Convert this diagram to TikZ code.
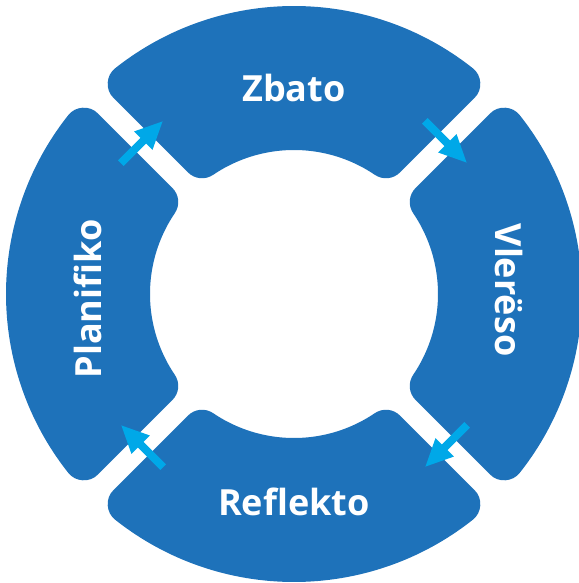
\documentclass[tikz,border=0pt]{standalone}
\usepackage{fontspec}
\setmainfont{Open Sans}
\usetikzlibrary{arrows.meta,calc}
\definecolor{ringblue}{RGB}{30,114,186}
\definecolor{arrowcyan}{RGB}{0,168,232}
\tikzset{
  segment/.style={fill=ringblue,draw=ringblue,line width=0.8cm,line join=round},
  seglabel/.style={text=white,font=\bfseries\fontsize{20.5}{20.5}\selectfont},
  steparrow/.style={arrowcyan,line width=4.5pt,-{Triangle[length=16pt,width=13.5pt]}}
}
\begin{document}
\begin{tikzpicture}
    \useasboundingbox (-5.88,-5.78) rectangle (5.70,5.88);
    %% Ring segments (shrunk, then stroked wide for the round corners)
    \foreach \a in {90,0,270,180}
        \path[segment] (\a-38.36:5.36) arc[start angle=\a-38.36,end angle=\a+38.36,radius=5.36]
            -- (\a+34.10:3.28) arc[start angle=\a+34.10,end angle=\a-34.10,radius=3.28] -- cycle;
    %% Labels
    \node[seglabel] (zbato) at (90:4.12) {Zbato};
    \node[seglabel,rotate=-90] (vlereso) at (4.3,0.08) {Vlerëso};
    \node[seglabel] (reflekto) at (270:4.16) {Reflekto};
    \node[seglabel,rotate=90] (planifiko) at (-4.12,-0.1) {Planifiko};
    %% Arrows across the gaps, clockwise
    \foreach \g/\n in {135/a,45/b,-45/c,-135/d} {
        \coordinate (\n-tail) at ($(\g:4.3)+(\g+90:0.6)$);
        \coordinate (\n-tip) at ($(\g:4.3)+(\g-90:0.6)$);
        \draw[steparrow] (\n-tail) -- (\n-tip);
    }
\end{tikzpicture}
\end{document}
